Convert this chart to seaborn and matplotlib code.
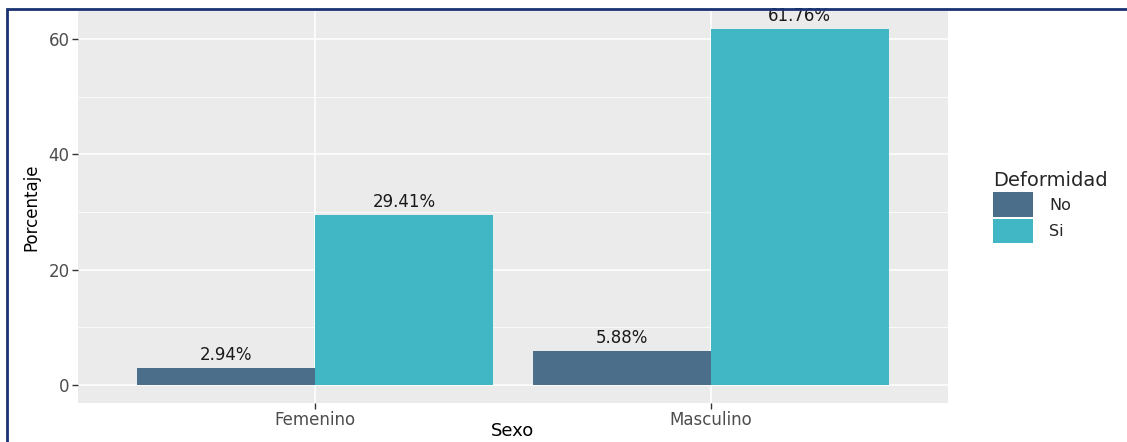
import matplotlib
matplotlib.use("Agg")
import matplotlib.pyplot as plt
import seaborn as sns
import pandas as pd
from matplotlib.patches import Rectangle, Patch

# Data
sexo = ["Femenino", "Femenino", "Masculino", "Masculino"]
deformidad = ["No", "Si", "No", "Si"]
porcentaje = [2.94, 29.41, 5.88, 61.76]
etiquetas = ["2.94%", "29.41%", "5.88%", "61.76%"]
categorias = ["Femenino", "Masculino"]
niveles = ["No", "Si"]
colores = {"No": "#4B6F8A", "Si": "#41B6C4"}
yticks = [0, 20, 40, 60]

df = pd.DataFrame({"Sexo": sexo, "Deformidad": deformidad, "Porcentaje": porcentaje})

sns.set_style("white")
plt.rcParams["font.family"] = ["DejaVu Sans"]

W, H = 1127, 442
fig = plt.figure(figsize=(W / 100, H / 100), dpi=100)
fig.patch.set_facecolor("white")

# panel in pixel coordinates
L, R, T, B = 78, 948, 11, 403
ax = fig.add_axes([L / W, 1 - B / H, (R - L) / W, (B - T) / H])
ax.set_facecolor("#EBEBEB")

sns.barplot(data=df, x="Sexo", y="Porcentaje", hue="Deformidad",
            order=categorias, hue_order=niveles, palette=colores,
            width=0.9, errorbar=None, saturation=1, legend=False, ax=ax,
            linewidth=0, zorder=3)

# labels from data
lab = dict(zip(zip(sexo, deformidad), etiquetas))
for cont, niv in zip(ax.containers, niveles):
    ax.bar_label(cont, labels=[lab[(c, niv)] for c in categorias],
                 padding=3, fontsize=12, color="#1a1a1a", zorder=4)

ax.set_xlim(-0.6, 1.6)
ymax = max(porcentaje)
ax.set_ylim(-0.05 * ymax, 1.05 * ymax)
ax.set_yticks(yticks)
ax.set_yticks([10, 30, 50], minor=True)
ax.grid(which="major", axis="both", color="white", linewidth=1.1, zorder=0)
ax.grid(which="minor", axis="y", color="white", linewidth=0.55, zorder=0)
ax.set_axisbelow(True)
for s in ax.spines.values():
    s.set_visible(False)

ax.tick_params(axis="both", which="major", length=4, width=1, color="#333333",
               labelsize=12, labelcolor="#4D4D4D", pad=2)
ax.tick_params(axis="both", which="minor", length=0)
ax.tick_params(axis="y", left=True)
ax.tick_params(axis="x", bottom=True)

ax.set_xlabel("Sexo", fontsize=13, color="black")
ax.xaxis.label.set_va("bottom")
ax.xaxis.set_label_coords(0.5, (2 - (H - B)) / (B - T))
ax.set_ylabel("Porcentaje", fontsize=12, color="black", labelpad=6)

# legend
handles = [Patch(facecolor=colores[n], edgecolor="none", label=n) for n in niveles]
leg = fig.legend(handles=handles, title="Deformidad", loc="upper left",
                 bbox_to_anchor=(982 / W, 1 - 160 / H), frameon=False,
                 fontsize=11.5, title_fontsize=14, handlelength=2.5,
                 handleheight=2.0, labelspacing=0.12, handletextpad=1.0,
                 borderpad=0.2)
leg._legend_box.align = "left"

# outer navy frame
fig.patches.append(Rectangle((7 / W, -0.2), 1.2, 1.2 - 9 / H,
                             transform=fig.transFigure, fill=False,
                             edgecolor="#1B3272", linewidth=2, zorder=10))

fig.savefig("out.png", dpi=100)
